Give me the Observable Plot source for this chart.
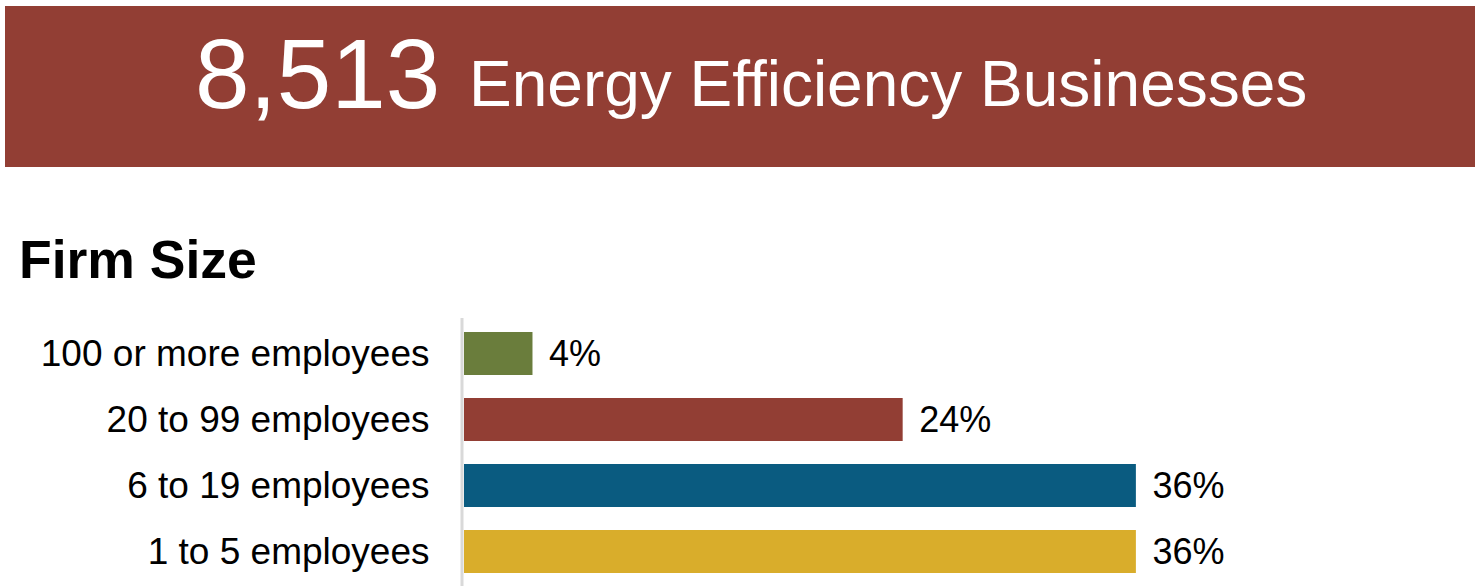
<!DOCTYPE html>
<html>
<head>
<meta charset="utf-8">
<script src="https://cdn.jsdelivr.net/npm/d3@7"></script>
<script src="https://cdn.jsdelivr.net/npm/@observablehq/plot@0.6"></script>
<style>
  html, body { margin: 0; padding: 0; background: #fff; overflow: hidden; width: 1483px; height: 586px; }
  body { position: relative; font-family: Arial, "Liberation Sans", sans-serif; }
  #banner { position: absolute; left: 5px; top: 6px; width: 1470px; height: 161px; background: #923e34; }
  .bt { position: absolute; color: #fff; line-height: 1; white-space: nowrap; }
  #count { left: 195px; top: 25px; font-size: 98px; }
  #label { left: 469px; top: 52px; font-size: 64px; }
  #title { position: absolute; left: 19px; top: 233px; font-size: 53.5px; font-weight: bold; line-height: 1; color: #000; white-space: nowrap; }
  #chart { position: absolute; left: 0; top: 300px; }
</style>
</head>
<body>
<div id="banner"></div>
<div class="bt" id="count">8,513</div>
<div class="bt" id="label">Energy Efficiency Businesses</div>
<div id="title">Firm Size</div>
<div id="chart"></div>
<script>
const categories = ["100 or more employees", "20 to 99 employees", "6 to 19 employees", "1 to 5 employees"];
const shares = [3.7, 23.7, 36.3, 36.3];
const valueLabels = ["4%", "24%", "36%", "36%"];
const colors = ["#6a7d3c", "#923e34", "#0a5b80", "#d9ad2b"];

const data = categories.map((c, i) => ({category: c, share: shares[i], label: valueLabels[i]}));

const chart = Plot.plot({
  width: 1483,
  height: 300,
  marginLeft: 464,
  marginRight: 1,
  marginTop: 7.3,
  marginBottom: 2.5,
  x: {domain: [0, 55], axis: null},
  y: {domain: categories, padding: 0.35, label: null, tickSize: 0, tickPadding: 35},
  color: {domain: categories, range: colors},
  style: {fontFamily: "Arial, 'Liberation Sans', sans-serif", fontSize: "37px", color: "#000", background: "transparent", overflow: "visible"},
  marks: [
    Plot.barX(data, {x: "share", y: "category", fill: "category"}),
    Plot.ruleX([0], {stroke: "#d9d9d9", strokeWidth: 3, dx: -2.5, insetTop: 10.7}),
    Plot.text(data, {x: "share", y: "category", text: "label", textAnchor: "start", dx: 16, fontSize: 36, fill: "#000"})
  ]
});
document.getElementById("chart").appendChild(chart);
</script>
</body>
</html>
